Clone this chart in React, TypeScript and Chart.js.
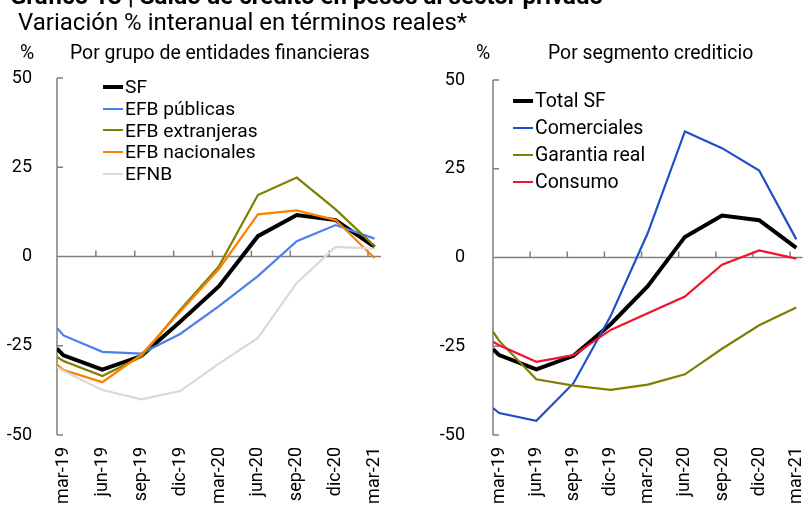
import React, { useEffect, useRef } from "react";
import { Chart, registerables } from "chart.js";

Chart.register(...registerables);

// Time positions in months since mar-19 (first value is the start of the window)
const xMonths = [0, 0.5, 3.5, 6.5, 9.5, 12.5, 15.5, 18.5, 21.5, 24.5];
const labelMonths = [0.5, 3.5, 6.5, 9.5, 12.5, 15.5, 18.5, 21.5, 24.5];
const tickLabels = ["mar-19", "jun-19", "sep-19", "dic-19", "mar-20", "jun-20", "sep-20", "dic-20", "mar-21"];
const quarterTicks = [0, 3, 6, 9, 12, 15, 18, 21, 24];
const yTicks = [-50, -25, 0, 25, 50];

// Left panel: Por grupo de entidades financieras
const sfLeft = [-25.8, -27.7, -31.7, -27.9, -18.3, -8.3, 5.7, 11.6, 10.2, 2.7];
const efbPublicas = [-20.0, -22.1, -26.7, -27.2, -21.7, -13.9, -5.5, 4.3, 8.8, 5.0];
const efbExtranjeras = [-28.1, -29.3, -33.5, -28.1, -15.0, -2.7, 17.2, 22.1, 13.2, 2.9];
const efbNacionales = [-30.3, -31.8, -35.2, -27.5, -15.5, -3.5, 11.8, 12.9, 10.2, -0.4];
const efnb = [-30.9, -32.1, -37.4, -40.0, -37.7, -30.0, -22.8, -7.4, 2.7, 2.2];

// Right panel: Por segmento crediticio
const totalSF = [-25.8, -27.5, -31.5, -27.7, -18.8, -8.1, 5.8, 11.8, 10.5, 2.7];
const comerciales = [-42.4, -43.8, -46.0, -35.4, -16.5, 6.9, 35.5, 30.8, 24.5, 5.1];
const garantiaReal = [-20.9, -23.5, -34.3, -36.1, -37.3, -35.8, -32.9, -25.7, -19.1, -14.1];
const consumo = [-23.7, -24.7, -29.4, -27.5, -20.4, -15.7, -11.0, -2.0, 2.0, -0.3];

const leftSeries = [
  { label: "SF", data: sfLeft, color: "#000000", width: 4 },
  { label: "EFB públicas", data: efbPublicas, color: "#4a7ff0", width: 2.2 },
  { label: "EFB extranjeras", data: efbExtranjeras, color: "#7f7f00", width: 2.2 },
  { label: "EFB nacionales", data: efbNacionales, color: "#ff8000", width: 2.2 },
  { label: "EFNB", data: efnb, color: "#d9d9d9", width: 2.2 },
];

const rightSeries = [
  { label: "Total SF", data: totalSF, color: "#000000", width: 4 },
  { label: "Comerciales", data: comerciales, color: "#1f4fc8", width: 2.2 },
  { label: "Garantia real", data: garantiaReal, color: "#7f7f00", width: 2.2 },
  { label: "Consumo", data: consumo, color: "#f0142d", width: 2.2 },
];

const FONT = "Roboto, 'Noto Sans', sans-serif";

const axisPlugin = {
  id: "customAxes",
  beforeDatasetsDraw(chart: any) {
    const { ctx, chartArea, scales } = chart;
    const xs = scales.x;
    const ys = scales.y;
    ctx.save();
    ctx.strokeStyle = "#7f7f7f";
    ctx.lineWidth = 1.5;
    const y0 = ys.getPixelForValue(0);
    ctx.beginPath();
    ctx.moveTo(chartArea.left, ys.getPixelForValue(50));
    ctx.lineTo(chartArea.left, ys.getPixelForValue(-50));
    yTicks.forEach((v) => {
      const py = ys.getPixelForValue(v);
      ctx.moveTo(chartArea.left, py);
      ctx.lineTo(chartArea.left + 6, py);
    });
    ctx.moveTo(chartArea.left, y0);
    ctx.lineTo(chartArea.right, y0);
    quarterTicks.forEach((m) => {
      const px = xs.getPixelForValue(m);
      ctx.moveTo(px, y0);
      ctx.lineTo(px, y0 - 6);
    });
    ctx.stroke();
    ctx.restore();
  },
};

type Series = { label: string; data: number[]; color: string; width: number };

function Panel(props: {
  series: Series[];
  left: number;
  width: number;
  axisWidth: number;
  padTop: number;
  padRight: number;
  tickPad: number;
}) {
  const ref = useRef<HTMLCanvasElement | null>(null);
  useEffect(() => {
    if (!ref.current) return;
    const n = props.series.length;
    const chart = new Chart(ref.current, {
      type: "line",
      data: {
        datasets: props.series.map((s, i) => ({
          label: s.label,
          data: xMonths.map((x, j) => ({ x, y: s.data[j] })),
          borderColor: s.color,
          backgroundColor: s.color,
          borderWidth: s.width,
          pointRadius: 0,
          tension: 0,
          fill: false,
          order: n - i,
        })),
      },
      options: {
        responsive: false,
        animation: false,
        layout: { padding: { top: props.padTop, right: props.padRight, left: 0, bottom: 0 } },
        plugins: { legend: { display: false }, tooltip: { enabled: false }, title: { display: false } },
        scales: {
          x: {
            type: "linear",
            min: 0,
            max: 25,
            grid: { display: false },
            border: { display: false },
            afterBuildTicks: (scale: any) => {
              scale.ticks = labelMonths.map((v) => ({ value: v }));
            },
            afterFit: (scale: any) => {
              scale.height = 74;
              scale.paddingLeft = 0;
              scale.paddingRight = 0;
            },
            ticks: {
              autoSkip: false,
              minRotation: 90,
              maxRotation: 90,
              padding: 4,
              color: "#000",
              font: { family: FONT, size: 18 },
              callback: (_v: any, i: number) => tickLabels[i],
            },
          },
          y: {
            min: -50,
            max: 50,
            grid: { display: false },
            border: { display: false },
            afterBuildTicks: (scale: any) => {
              scale.ticks = yTicks.map((v) => ({ value: v }));
            },
            afterFit: (scale: any) => {
              scale.width = props.axisWidth;
              scale.paddingTop = 0;
              scale.paddingBottom = 0;
            },
            ticks: {
              padding: props.tickPad,
              color: "#000",
              font: { family: FONT, size: 18 },
              callback: (v: any) => String(v),
            },
          },
        },
      },
      plugins: [axisPlugin],
    });
    return () => chart.destroy();
  }, []);
  return (
    <canvas
      ref={ref}
      width={props.width}
      height={509}
      style={{ position: "absolute", left: props.left, top: 0, width: props.width, height: 509, display: "block" }}
    />
  );
}

function Legend(props: { series: Series[]; left: number; top: number; rowH: number; fontSize: number }) {
  return (
    <div style={{ position: "absolute", left: props.left, top: props.top }}>
      {props.series.map((s) => (
        <div
          key={s.label}
          style={{ display: "flex", alignItems: "center", height: props.rowH, fontSize: props.fontSize, lineHeight: props.rowH + "px", fontFamily: FONT, color: "#000", whiteSpace: "nowrap" }}
        >
          <span style={{ display: "inline-block", width: 20, height: 0, borderTop: `${s.width}px solid ${s.color}`, marginRight: 2 }} />
          <span>{s.label}</span>
        </div>
      ))}
    </div>
  );
}

const txt = (left: number, top: number, size: number, text: string, bold = false) => (
  <div
    style={{ position: "absolute", left, top, fontSize: size, lineHeight: 1, fontFamily: FONT, fontWeight: bold ? 700 : 400, color: "#000", whiteSpace: "nowrap" }}
  >
    {text}
  </div>
);

export default function App() {
  return (
    <div style={{ position: "absolute", left: 0, top: 0, width: 803, height: 509, background: "#fff", overflow: "hidden" }}>
      <Panel series={leftSeries} left={0} width={400} axisWidth={57} padTop={78} padRight={19} tickPad={17} />
      <Panel series={rightSeries} left={400} width={403} axisWidth={93} padTop={80} padRight={0.5} tickPad={20} />
      {txt(10, -16, 24, "Gráfico 13 | Saldo de crédito en pesos al sector privado", true)}
      {txt(18, 10, 24, "Variación % interanual en términos reales*")}
      {txt(20, 43, 19.4, "%")}
      {txt(70, 43, 19.4, "Por grupo de entidades financieras")}
      {txt(476, 43, 19.4, "%")}
      {txt(548, 43, 19.4, "Por segmento crediticio")}
      <Legend series={leftSeries} left={103} top={76} rowH={21.8} fontSize={19.2} />
      <Legend series={rightSeries} left={513} top={87} rowH={27} fontSize={19.5} />
    </div>
  );
}
